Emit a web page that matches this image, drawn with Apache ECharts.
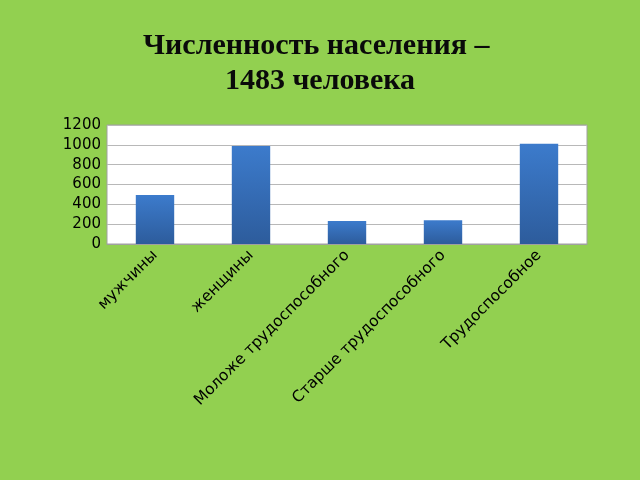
<!DOCTYPE html>
<html><head><meta charset="utf-8">
<script src="https://cdn.jsdelivr.net/npm/echarts@6/dist/echarts.min.js"></script>
<style>html,body{margin:0;padding:0;background:#92D050;}#c{width:640px;height:480px;}</style>
</head><body><div id="c"></div>
<script>
var titleText = 'Численность населения – \n1483 человека';
var categories = ['мужчины', 'женщины', 'Моложе трудоспособного', 'Старше трудоспособного', 'Трудоспособное'];
var values = [494, 989, 232, 240, 1011];
var yTicks = { min: 0, max: 1200, interval: 200 };

var chart = echarts.init(document.getElementById('c'));
chart.setOption({
  backgroundColor: '#92D050',
  animation: false,
  title: {
    text: titleText, left: 'center', top: 24,
    textStyle: { fontFamily: 'Liberation Serif', fontWeight: 'bold', fontSize: 30, lineHeight: 35, color: '#0a0a0a' }
  },
  grid: { left: 107, right: 53, top: 125, bottom: 236, backgroundColor: '#fff', show: true, borderColor: '#a0a0a0', borderWidth: 1 },
  xAxis: {
    type: 'category', data: categories,
    axisLine: { lineStyle: { color: '#a0a0a0' } },
    axisTick: { show: false },
    axisLabel: { rotate: 45, interval: 0, margin: 9, fontFamily: 'DejaVu Sans', fontSize: 15.5, color: '#000' }
  },
  yAxis: {
    type: 'value', min: yTicks.min, max: yTicks.max, interval: yTicks.interval,
    axisLine: { show: false }, axisTick: { show: false },
    splitLine: { lineStyle: { color: '#b8b8b8' } },
    axisLabel: { margin: 6, fontFamily: 'DejaVu Sans', fontSize: 15, color: '#000', formatter: function (v) { return String(v); } }
  },
  series: [{
    type: 'bar', data: values, barWidth: '40%',
    itemStyle: {
      color: new echarts.graphic.LinearGradient(0, 0, 0, 1, [
        { offset: 0, color: '#3c7bcc' }, { offset: 1, color: '#2d5c9c' }
      ])
    }
  }]
});
</script></body></html>
